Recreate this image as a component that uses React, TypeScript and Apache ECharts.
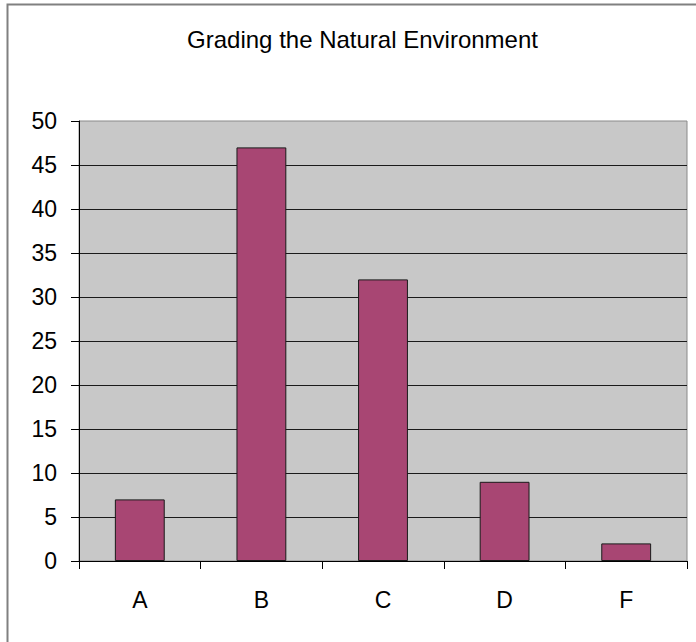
import React, { useEffect, useRef } from "react";
import * as echarts from "echarts";

const titleText = "Grading the Natural Environment";
const categories = ["A", "B", "C", "D", "F"];
const values = [7, 47, 32, 9, 2];
const yMin = 0;
const yMax = 50;
const yInterval = 5;

export default function App() {
  const ref = useRef<HTMLDivElement>(null);
  useEffect(() => {
    document.body.style.margin = "0";
    const chart = echarts.init(ref.current!, null, { renderer: "svg" });
    chart.setOption({
      animation: false,
      backgroundColor: "#ffffff",
      textStyle: { fontFamily: "Liberation Sans, Arial, sans-serif" },
      title: {
        text: titleText,
        left: 357.5,
        top: 22,
        textAlign: "center",
        textStyle: {
          fontFamily: "Liberation Sans, Arial, sans-serif",
          fontSize: 24,
          fontWeight: "normal",
          color: "#000",
        },
      },
      graphic: [
        {
          type: "rect",
          shape: { x: 7.5, y: 4.5, width: 900, height: 900 },
          style: { fill: "none", stroke: "#808080", lineWidth: 2 },
          silent: true,
        },
      ],
      grid: {
        left: 79,
        right: 9,
        top: 121,
        bottom: 81,
        show: true,
        backgroundColor: "#C8C8C8",
        borderColor: "#8a8a8a",
        borderWidth: 1,
      },
      xAxis: {
        type: "category",
        data: categories,
        boundaryGap: true,
        axisLine: { show: true, lineStyle: { color: "#000", width: 1 } },
        axisTick: { show: true, length: 8, alignWithLabel: false, lineStyle: { color: "#000" } },
        axisLabel: {
          color: "#000",
          fontSize: 23,
          margin: 27,
          fontFamily: "Liberation Sans, Arial, sans-serif",
        },
      },
      yAxis: {
        type: "value",
        min: yMin,
        max: yMax,
        interval: yInterval,
        axisLine: { show: true, lineStyle: { color: "#000", width: 1 } },
        axisTick: { show: true, length: 8, lineStyle: { color: "#000" } },
        axisLabel: {
          color: "#000",
          fontSize: 23,
          margin: 22,
          fontFamily: "Liberation Sans, Arial, sans-serif",
        },
        splitLine: {
          show: true,
          showMaxLine: false,
          lineStyle: { color: "#1a1a1a", width: 1 },
        },
      },
      series: [
        {
          type: "bar",
          data: values,
          barWidth: "41%",
          itemStyle: { color: "#A84673", borderColor: "#1a1a1a", borderWidth: 1 },
        },
      ],
    });
    return () => chart.dispose();
  }, []);
  return <div ref={ref} style={{ width: 696, height: 642 }} />;
}
